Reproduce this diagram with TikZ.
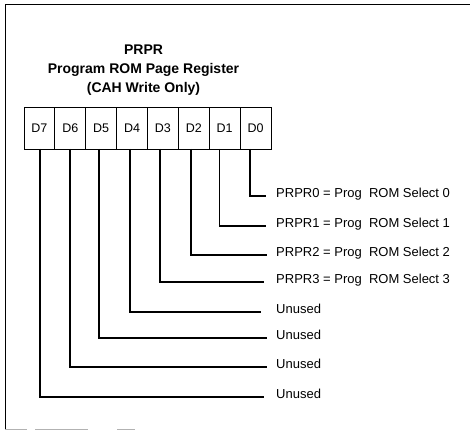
\documentclass[tikz,border=0pt]{standalone}
\usepackage{fontspec}
\setmainfont{Liberation Sans}
\begin{document}
\begin{tikzpicture}[x=1pt,y=-1pt,
  cell/.style={draw,line width=0.9pt,minimum width=30.875pt,minimum height=42pt,inner sep=0pt,outer sep=0pt,font=\fontsize{12.5}{14}\selectfont},
  title/.style={font=\bfseries\fontsize{14}{17}\selectfont,anchor=base,inner sep=0pt},
  lbl/.style={anchor=base west,inner xsep=0pt,inner ysep=1pt,font=\fontsize{13}{15}\selectfont},
  wire/.style={line width=1.2pt},
  frame/.style={line width=0.9pt}]
\useasboundingbox (0,0) rectangle (470,430);
% frame
\coordinate (f1) at (5,4);
\coordinate (f2) at (470,4);
\coordinate (f3) at (5,430);
\draw[frame] (f2) -- (f1) -- (f3);
\draw[gray!60,line width=0.8pt] (5,429) -- (27,429) (35,429) -- (88,429) (117,429) -- (135,429);
% title
\node[title] (t1) at (143.5,55) {PRPR};
\node[title] (t2) at (143.5,74) {Program ROM Page Register};
\node[title] (t3) at (143.5,93) {(CAH Write Only)};
% register cells
\foreach \b [count=\k from 0] in {7,6,5,4,3,2,1,0}{
  \node[cell] (d\b) at ({24+30.875*(\k+0.5)},128) {D\b};
}
% labels
\node[lbl] (l0) at (276,197) {PRPR0 = Prog\ \ ROM Select 0};
\node[lbl] (l1) at (276,227) {PRPR1 = Prog\ \ ROM Select 1};
\node[lbl] (l2) at (276,256) {PRPR2 = Prog\ \ ROM Select 2};
\node[lbl] (l3) at (276,283) {PRPR3 = Prog\ \ ROM Select 3};
\node[lbl] (l4) at (276,313) {Unused};
\node[lbl] (l5) at (276,339) {Unused};
\node[lbl] (l6) at (276,368) {Unused};
\node[lbl] (l7) at (276,398) {Unused};
% wires
\foreach \b/\s/\e in {0/-5.5/10, 1/-5.5/10, 2/-2.8/9, 3/-3/12, 4/-2/15, 5/-2.2/9, 6/-0.3/9, 7/0.6/12}{
  \draw[wire] ([xshift=\s pt]d\b.south) |- ([xshift=-\e pt,yshift=1pt]l\b.base west);
}
\end{tikzpicture}
\end{document}
